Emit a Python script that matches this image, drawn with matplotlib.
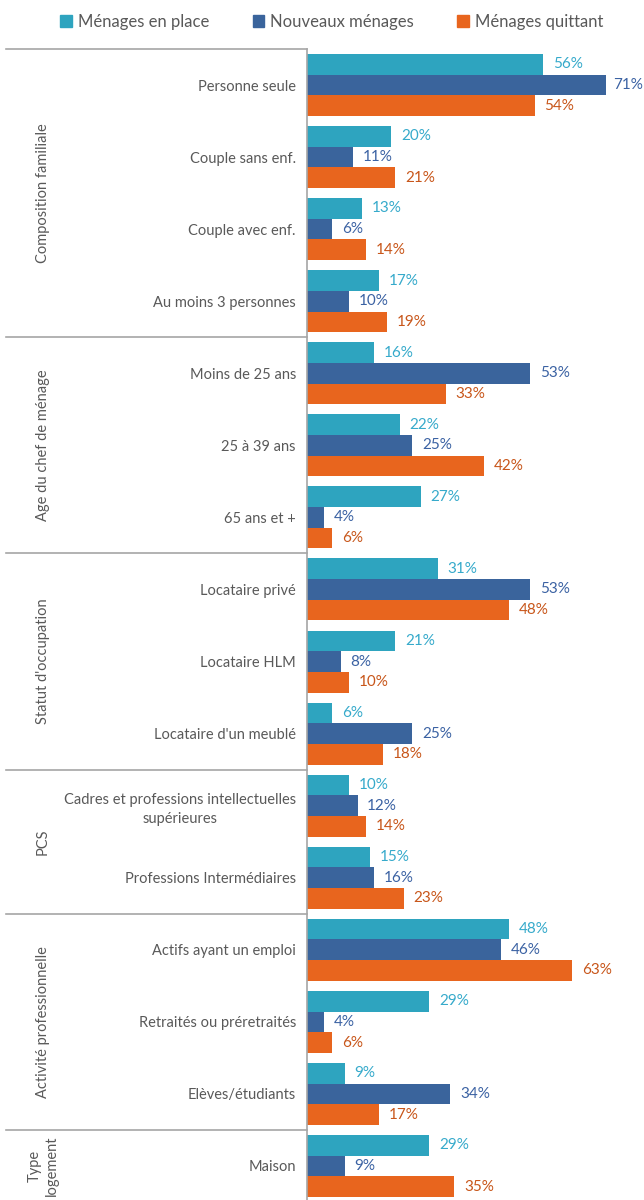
import matplotlib.pyplot as plt
import matplotlib.transforms as mtransforms
from matplotlib.patches import Patch

plt.rcParams['font.family'] = ['Lato', 'DejaVu Sans']

categories = [
    'Personne seule', 'Couple sans enf.', 'Couple avec enf.', 'Au moins 3 personnes',
    'Moins de 25 ans', '25 à 39 ans', '65 ans et +',
    'Locataire privé', 'Locataire HLM', "Locataire d'un meublé",
    'Cadres et professions intellectuelles\nsupérieures', 'Professions Intermédiaires',
    'Actifs ayant un emploi', 'Retraités ou préretraités', 'Elèves/étudiants',
    'Maison',
]
groups = ['Composition familiale', 'Age du chef de ménage', "Statut d'occupation",
          'PCS', 'Activité professionnelle', 'Type\nlogement']
group_sizes = [4, 3, 3, 2, 3, 1]

series_names = ['Ménages en place', 'Nouveaux ménages', 'Ménages quittant']
en_place = [56, 20, 13, 17, 16, 22, 27, 31, 21, 6, 10, 15, 48, 29, 9, 29]
nouveaux = [71, 11, 6, 10, 53, 25, 4, 53, 8, 25, 12, 16, 46, 4, 34, 9]
quittant = [54, 21, 14, 19, 33, 42, 6, 48, 10, 18, 14, 23, 63, 6, 17, 35]

bar_colors = ['#2EA4BF', '#3A649C', '#E8651E']
text_colors = ['#36AACB', '#3B62A3', '#C8561A']
grey = '#595959'
line_grey = '#A6A6A6'

fig = plt.figure(figsize=(6.44, 12), dpi=100)
ax = fig.add_axes([307 / 644, -2 / 1200, 316 / 644, 1153 / 1200])

n = len(categories)
h = 0.287
ypos = list(range(n))
for k, vals in enumerate([en_place, nouveaux, quittant]):
    off = (k - 1) * h
    ax.barh([y + off for y in ypos], vals, height=h, color=bar_colors[k], label=series_names[k])
    for y, v in zip(ypos, vals):
        # labels are pushed back inside the plot area near the right edge
        ax.text(min(v + 2.3, 72.6), y + off, f'{v}%', va='center', ha='left', fontsize=11,
                color=text_colors[k], clip_on=False)

ax.set_xlim(0, 75)
ax.set_ylim(n - 0.5, -0.5)
ax.set_yticks(ypos)
ax.set_yticklabels(categories, fontsize=10.5, color=grey)
for lbl in ax.get_yticklabels():
    lbl.set_multialignment('center')
    lbl.set_linespacing(1.4)
ax.tick_params(axis='y', length=0, pad=8)
ax.set_xticks([])
for s in ['top', 'right', 'bottom']:
    ax.spines[s].set_visible(False)
ax.spines['left'].set_color(line_grey)
ax.spines['left'].set_linewidth(1.2)

# group separators and group labels on the left
trans = mtransforms.blended_transform_factory(fig.transFigure, ax.transData)
x0, x1 = 6 / 644, 307 / 644
start = -0.5
ax.plot([x0, x1], [start, start], transform=trans, color=line_grey, lw=1.2, clip_on=False)
for g, size in zip(groups, group_sizes):
    end = start + size
    ax.plot([x0, x1], [end, end], transform=trans, color=line_grey, lw=1.2, clip_on=False)
    ax.text(43 / 644, (start + end) / 2, g, transform=trans, rotation=90, ha='center',
            va='center', fontsize=10.5, color=grey, multialignment='center', linespacing=1.3)
    start = end

handles = [Patch(color=c) for c in bar_colors]
fig.legend(handles, series_names, loc='center', bbox_to_anchor=(0.515, 1 - 22 / 1200), ncol=3,
           frameon=False, fontsize=12, handlelength=0.7, handleheight=0.7, handletextpad=0.35,
           columnspacing=2.6, labelcolor=grey)

fig.savefig('out.png', dpi=100)
